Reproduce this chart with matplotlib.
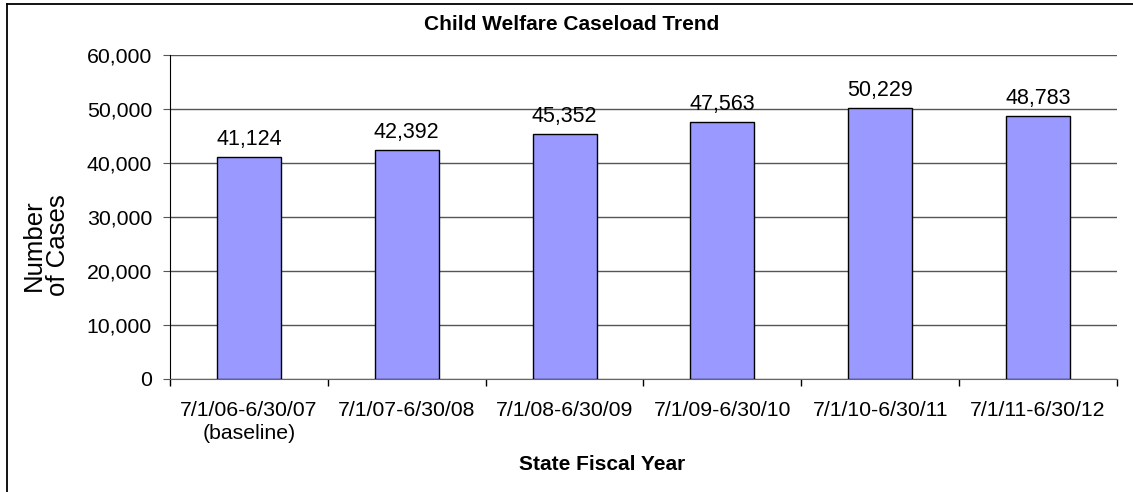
import matplotlib
matplotlib.use("Agg")
import matplotlib.pyplot as plt
from matplotlib.lines import Line2D
from matplotlib.ticker import FuncFormatter, MultipleLocator

categories = ["7/1/06-6/30/07\n(baseline)", "7/1/07-6/30/08", "7/1/08-6/30/09",
              "7/1/09-6/30/10", "7/1/10-6/30/11", "7/1/11-6/30/12"]
cases = [41124, 42392, 45352, 47563, 50229, 48783]

plt.rcParams['font.family'] = ['Liberation Sans', 'DejaVu Sans']

W, H = 1133, 492
fig = plt.figure(figsize=(W / 100, H / 100), dpi=100)
ax = fig.add_axes([170/W, 1-379/H, (1117-170)/W, (379-55)/H])

x = list(range(len(categories)))
ax.bar(x, cases, width=0.405, color='#9999FF', edgecolor='black', linewidth=1.0, zorder=3)
for xi, v in zip(x, cases):
    ax.annotate(f"{v:,}", (xi, v), xytext=(0, 5), textcoords='offset points',
                ha='center', va='bottom', fontsize=15.5)

ax.set_xlim(-0.5, len(categories) - 0.5)
ax.set_ylim(0, 60000)
ax.yaxis.set_major_locator(MultipleLocator(10000))
ax.yaxis.set_major_formatter(FuncFormatter(lambda v, p: f"{int(v):,}"))
ax.grid(axis='y', color='#555555', linewidth=1.0, zorder=0)
ax.set_axisbelow(True)

ax.set_xticks(x)
ax.set_xticklabels(categories, fontsize=15.3, linespacing=1.25)
ax.set_xticks([i - 0.5 for i in range(len(categories) + 1)], minor=True)
ax.tick_params(axis='x', which='major', length=0, pad=16)
ax.tick_params(axis='x', which='minor', length=5, color='black', width=1)
ax.tick_params(axis='y', length=5, labelsize=15.3, pad=8, color='#555555')

for s in ['top', 'right']:
    ax.spines[s].set_visible(False)
ax.spines['left'].set_color('black')
ax.spines['bottom'].set_color('#666666')

fig.text(572/W, 1-25/H, "Child Welfare Caseload Trend", fontsize=15, fontweight='bold',
         ha='center', va='center')
fig.text(602/W, 1-464/H, "State Fiscal Year", fontsize=15, fontweight='bold',
         ha='center', va='center')
fig.text(46/W, 1-245/H, "Number\nof Cases", fontsize=18.5, rotation=90,
         ha='center', va='center', multialignment='center', linespacing=1.0)

fig.add_artist(Line2D([7/W, 7/W], [0, 1-3.5/H], transform=fig.transFigure, color='black', lw=1.3))
fig.add_artist(Line2D([7/W, 1], [1-3.5/H, 1-3.5/H], transform=fig.transFigure, color='black', lw=1.3))

fig.savefig("out.png", dpi=100)
